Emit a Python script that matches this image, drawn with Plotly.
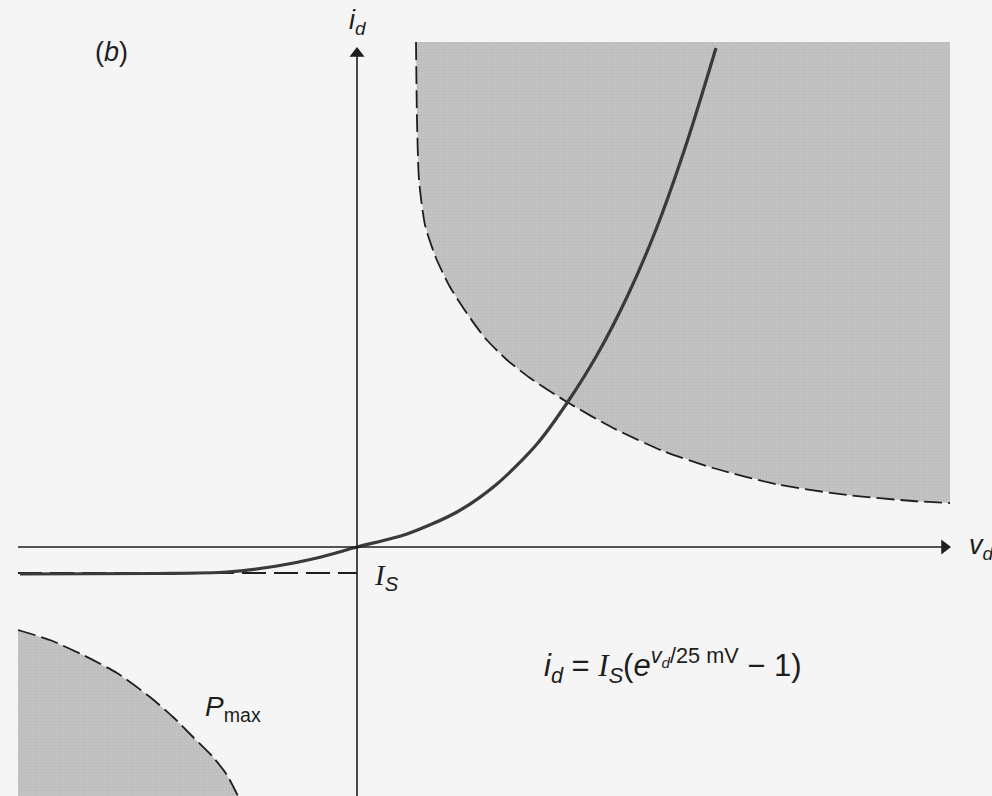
import plotly.graph_objects as go

# Diode characteristic: forward current i_d against diode voltage v_d
# (arbitrary screen-scale units, origin at the axis crossing)
curve_v = [-337, -200, -130, -80, -40, 0, 50, 100, 140, 180, 210, 240, 270, 300, 330, 359]
curve_i = [-27, -26.5, -25, -19, -11, 0, 13, 35, 63, 103, 144, 192, 250, 320, 405, 499]

# Saturation current level I_S (reverse-bias asymptote)
is_level = -26
is_span = [-339, 0]

# Maximum power boundary, first quadrant (v_d * i_d = P_max)
pmax_hi_v = [59, 60, 62, 68, 79, 93, 109, 128, 150, 173, 210, 256, 306, 356, 423, 490, 556, 593]
pmax_hi_i = [505, 427, 367, 322, 289, 260, 235, 209, 187, 169, 145, 119, 96, 79, 62, 52, 46, 44]

# Maximum power boundary, third quadrant
pmax_lo_v = [-339, -307, -274, -240, -207, -184, -164, -144, -130, -119]
pmax_lo_i = [-83, -93, -108, -126, -150, -170, -190, -210, -228, -249]

# Extents of the drawing
v_min, v_max = -357, 635
i_min, i_max = -249, 547
v_axis_start, v_axis_tip = -339, 594
i_axis_tip = 500
shade_top, shade_right = 505, 593
shade_left, shade_bottom = -339, -249

GRAY = "#c4c4c4"
INK = "#1e1e1e"
SANS = "Liberation Sans, Arial, sans-serif"

fig = go.Figure()

pattern = dict(shape=".", fgcolor="#adadad", bgcolor=GRAY, size=3, solidity=0.35)

# Shaded regions beyond P_max
fig.add_trace(go.Scatter(
    x=pmax_hi_v + [shade_right], y=pmax_hi_i + [shade_top],
    fill="toself", fillcolor=GRAY, fillpattern=pattern,
    mode="lines", line=dict(width=0), hoverinfo="skip"))
fig.add_trace(go.Scatter(
    x=pmax_lo_v + [shade_left], y=pmax_lo_i + [shade_bottom],
    fill="toself", fillcolor=GRAY, fillpattern=pattern,
    mode="lines", line=dict(width=0), hoverinfo="skip"))

# Dashed P_max boundaries
for vx, iy in ((pmax_hi_v, pmax_hi_i), (pmax_lo_v, pmax_lo_i)):
    fig.add_trace(go.Scatter(
        x=vx, y=iy, mode="lines",
        line=dict(color=INK, width=1.8, dash="18px,6px", shape="spline", smoothing=0.6),
        hoverinfo="skip"))

# I_S dashed asymptote
fig.add_trace(go.Scatter(
    x=is_span, y=[is_level, is_level], mode="lines",
    line=dict(color=INK, width=1.8, dash="24px,8px"), hoverinfo="skip"))

# Diode curve
fig.add_trace(go.Scatter(
    x=curve_v, y=curve_i, mode="lines",
    line=dict(color="#3a3a3a", width=3.2, shape="spline", smoothing=0.8),
    hoverinfo="skip"))

# Axes with arrowheads
head = 13
fig.add_trace(go.Scatter(
    x=[v_axis_start, v_axis_tip - head / 2], y=[0, 0], mode="lines",
    line=dict(color=INK, width=1.6), hoverinfo="skip"))
fig.add_trace(go.Scatter(
    x=[0, 0], y=[i_min, i_axis_tip - head / 2], mode="lines",
    line=dict(color=INK, width=1.6), hoverinfo="skip"))
fig.add_trace(go.Scatter(
    x=[v_axis_tip - head / 2, 0], y=[0, i_axis_tip - head / 2], mode="markers",
    marker=dict(symbol=["triangle-right", "triangle-up"], size=head, color=INK,
                line=dict(width=0)),
    hoverinfo="skip"))

annotations = [
    dict(x=0, y=525, text="<i>i</i><sub><i>d</i></sub>", showarrow=False,
         font=dict(family=SANS, size=27, color=INK)),
    dict(x=624, y=0, text="<i>v</i><sub><i>d</i></sub>", showarrow=False,
         font=dict(family=SANS, size=27, color=INK), xanchor="center"),
    dict(x=-246, y=495, text="(<i>b</i>)", showarrow=False,
         font=dict(family=SANS, size=27, color=INK)),
    dict(x=29, y=-30,
         text="<span style='font-family:Liberation Serif'><i>I</i></span><sub><i>S</i></sub>",
         showarrow=False, font=dict(family=SANS, size=29, color=INK)),
    dict(x=-124, y=-161, text="<i>P</i><sub>max</sub>", showarrow=False,
         font=dict(family=SANS, size=28, color=INK)),
    dict(x=316, y=-118,
         text="<i>i</i><sub><i>d</i></sub> = "
              "<span style='font-family:Liberation Serif'><i>I</i></span><sub><i>S</i></sub>"
              "(<i>e</i><sup><i>v<sub>d</sub></i>/25 mV</sup> − 1)",
         showarrow=False, font=dict(family=SANS, size=31, color=INK)),
]

fig.update_layout(
    width=992, height=796,
    margin=dict(l=0, r=0, t=0, b=0),
    paper_bgcolor="#f5f5f5", plot_bgcolor="#f5f5f5",
    showlegend=False,
    xaxis=dict(range=[v_min, v_max], visible=False, fixedrange=True),
    yaxis=dict(range=[i_min, i_max], visible=False, fixedrange=True),
    annotations=annotations,
)

fig.write_html("out.html")
